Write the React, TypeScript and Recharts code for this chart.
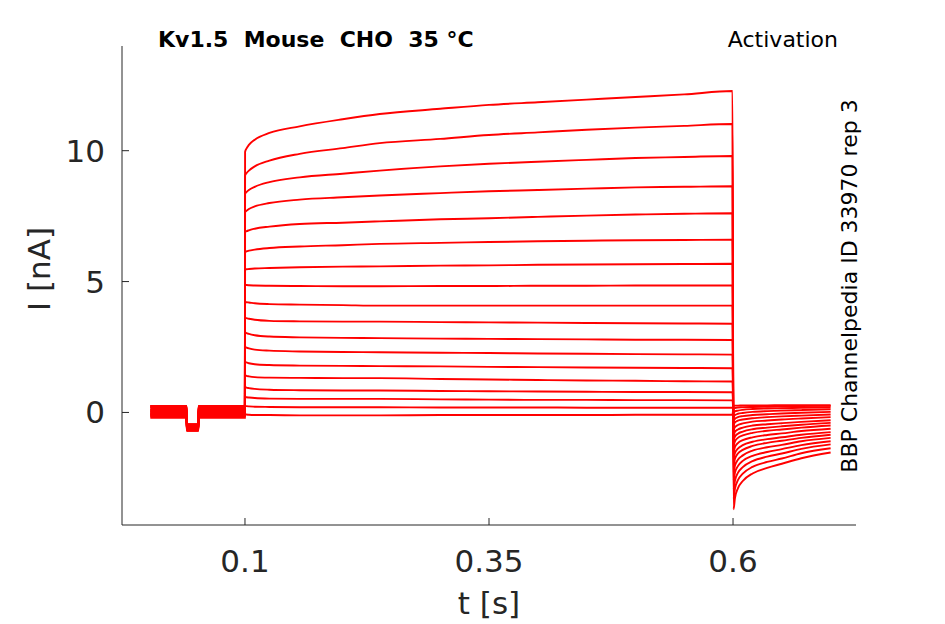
import React from 'react';
import { LineChart, Line, XAxis, YAxis } from 'recharts';

// sample times (s)
const preTimes = [0.003, 0.0402, 0.0404, 0.0522, 0.0524, 0.0999];
const pulseTimes = [0.1001, 0.1015, 0.104, 0.11, 0.125, 0.156, 0.2, 0.238, 0.3, 0.35, 0.4, 0.45, 0.5, 0.55, 0.5995];
const tailTimes = [0.6005, 0.602, 0.605, 0.61, 0.62, 0.635, 0.65, 0.67, 0.7];

// holding current before the step, and the small dip near 45 ms (nA)
const baselines = [0.05, -0.15, 0.2, -0.05, 0.1, -0.2, 0.25, 0.0, -0.1, 0.15, -0.15, 0.05, 0.2, -0.1, 0.1, -0.05, 0.25, 0.0];
const dips = [-0.55, -0.65, -0.5, -0.6, -0.55, -0.7, -0.45, -0.6, -0.65, -0.5, -0.7, -0.55, -0.5, -0.65, -0.55, -0.6, -0.45, -0.6];

// current during the activation step (nA), one row per sweep
const pulseValues = [
  [9.95, 10.08, 10.22, 10.42, 10.68, 10.93, 11.2, 11.4, 11.6, 11.75, 11.85, 11.95, 12.05, 12.15, 12.28],
  [9.05, 9.14, 9.24, 9.4, 9.62, 9.88, 10.1, 10.29, 10.45, 10.6, 10.7, 10.8, 10.88, 10.95, 11.02],
  [8.36, 8.42, 8.5, 8.62, 8.8, 8.98, 9.12, 9.24, 9.4, 9.5, 9.58, 9.65, 9.72, 9.76, 9.8],
  [7.65, 7.7, 7.77, 7.87, 8.0, 8.13, 8.22, 8.29, 8.38, 8.45, 8.5, 8.55, 8.6, 8.62, 8.64],
  [6.88, 6.92, 6.96, 7.02, 7.1, 7.2, 7.25, 7.3, 7.38, 7.42, 7.47, 7.52, 7.56, 7.59, 7.61],
  [6.12, 6.15, 6.18, 6.22, 6.28, 6.34, 6.39, 6.44, 6.48, 6.51, 6.54, 6.56, 6.58, 6.59, 6.6],
  [5.46, 5.47, 5.48, 5.5, 5.52, 5.55, 5.57, 5.58, 5.61, 5.62, 5.64, 5.65, 5.66, 5.67, 5.68],
  [4.88, 4.87, 4.86, 4.85, 4.84, 4.83, 4.82, 4.82, 4.83, 4.83, 4.84, 4.84, 4.85, 4.85, 4.85],
  [4.22, 4.21, 4.2, 4.17, 4.14, 4.12, 4.1, 4.08, 4.08, 4.08, 4.08, 4.08, 4.08, 4.08, 4.08],
  [3.62, 3.6, 3.58, 3.54, 3.5, 3.48, 3.47, 3.47, 3.45, 3.44, 3.43, 3.42, 3.41, 3.4, 3.39],
  [3.06, 3.03, 3.0, 2.95, 2.9, 2.87, 2.85, 2.84, 2.82, 2.81, 2.8, 2.79, 2.78, 2.78, 2.77],
  [2.5, 2.48, 2.45, 2.4, 2.36, 2.33, 2.31, 2.3, 2.28, 2.27, 2.25, 2.24, 2.23, 2.22, 2.21],
  [1.93, 1.91, 1.88, 1.84, 1.81, 1.79, 1.78, 1.77, 1.76, 1.74, 1.73, 1.72, 1.71, 1.7, 1.69],
  [1.42, 1.4, 1.38, 1.35, 1.33, 1.32, 1.31, 1.31, 1.28, 1.26, 1.24, 1.22, 1.21, 1.19, 1.18],
  [0.97, 0.95, 0.93, 0.9, 0.87, 0.85, 0.84, 0.84, 0.82, 0.81, 0.8, 0.79, 0.78, 0.78, 0.77],
  [0.6, 0.58, 0.57, 0.55, 0.53, 0.52, 0.52, 0.52, 0.5, 0.49, 0.48, 0.48, 0.47, 0.47, 0.46],
  [0.25, 0.24, 0.23, 0.22, 0.21, 0.2, 0.2, 0.2, 0.19, 0.19, 0.19, 0.18, 0.18, 0.18, 0.18],
  [-0.08, -0.08, -0.09, -0.1, -0.1, -0.11, -0.11, -0.11, -0.1, -0.1, -0.1, -0.1, -0.09, -0.09, -0.09],
];

// tail currents after the step (nA)
const tailValues = [
  [-3.7, -3.27, -2.9, -2.62, -2.33, -2.12, -1.96, -1.75, -1.53],
  [-3.3, -2.91, -2.59, -2.34, -2.08, -1.89, -1.76, -1.56, -1.37],
  [-2.95, -2.6, -2.31, -2.09, -1.86, -1.69, -1.57, -1.39, -1.22],
  [-2.6, -2.3, -2.05, -1.85, -1.66, -1.51, -1.4, -1.25, -1.1],
  [-2.3, -2.03, -1.81, -1.64, -1.46, -1.33, -1.24, -1.1, -0.97],
  [-2.0, -1.77, -1.57, -1.43, -1.28, -1.16, -1.08, -0.97, -0.85],
  [-1.75, -1.55, -1.38, -1.25, -1.12, -1.02, -0.95, -0.85, -0.75],
  [-1.5, -1.32, -1.17, -1.06, -0.95, -0.86, -0.8, -0.71, -0.62],
  [-1.25, -1.1, -0.97, -0.88, -0.78, -0.7, -0.65, -0.58, -0.5],
  [-1.05, -0.92, -0.81, -0.73, -0.64, -0.58, -0.53, -0.47, -0.4],
  [-0.85, -0.74, -0.65, -0.58, -0.5, -0.45, -0.41, -0.36, -0.3],
  [-0.65, -0.56, -0.48, -0.42, -0.35, -0.31, -0.27, -0.23, -0.18],
  [-0.45, -0.38, -0.31, -0.27, -0.22, -0.18, -0.15, -0.12, -0.08],
  [-0.3, -0.24, -0.18, -0.14, -0.1, -0.07, -0.04, -0.01, 0.02],
  [-0.15, -0.1, -0.05, -0.02, 0.02, 0.05, 0.07, 0.09, 0.12],
  [0.0, 0.04, 0.07, 0.1, 0.13, 0.15, 0.16, 0.18, 0.2],
  [0.15, 0.17, 0.19, 0.2, 0.21, 0.22, 0.23, 0.24, 0.25],
  [0.25, 0.26, 0.26, 0.27, 0.27, 0.27, 0.28, 0.28, 0.28],
];

const xTicks = [0.1, 0.35, 0.6];
const yTicks = [0, 5, 10];

const sweeps = pulseValues.map((pulse, i) => {
  const b = baselines[i];
  const d = dips[i];
  const pre = [b, b, d, d, b, b];
  return [
    ...preTimes.map((t, k) => ({ t, v: pre[k] })),
    ...pulseTimes.map((t, k) => ({ t, v: pulse[k] })),
    ...tailTimes.map((t, k) => ({ t, v: tailValues[i][k] })),
  ];
});

const ink = '#262626';
const font = 'DejaVu Sans';

const App: React.FC = () => {
  return (
    <div style={{ position: 'absolute', left: 0, top: 0, width: 945, height: 624, background: '#fff' }}>
      <LineChart width={945} height={624} margin={{ top: 46, right: 89, bottom: 0, left: 0 }}>
        <XAxis
          type="number"
          dataKey="t"
          domain={[-0.026, 0.726]}
          ticks={xTicks}
          tickFormatter={(v: number) => String(v)}
          allowDataOverflow
          height={99}
          tickSize={-7}
          tickMargin={32}
          stroke={ink}
          tick={{ fill: ink, fontSize: 31, fontFamily: font }}
        />
        <YAxis
          type="number"
          domain={[-4.3, 14]}
          ticks={yTicks}
          allowDataOverflow
          width={122}
          tickSize={-7}
          tickMargin={24}
          stroke={ink}
          tick={{ fill: ink, fontSize: 31, fontFamily: font }}
        />
        {sweeps.map((s, i) => (
          <Line
            key={i}
            data={s}
            dataKey="v"
            type="monotone"
            stroke="#ff0000"
            strokeWidth={1.9}
            dot={false}
            activeDot={false}
            isAnimationActive={false}
          />
        ))}
      </LineChart>
      <svg width={945} height={624} style={{ position: 'absolute', left: 0, top: 0, pointerEvents: 'none' }}>
        <text x={158} y={47} fontFamily={font} fontWeight="bold" fontSize={22} fill="#000" style={{ whiteSpace: 'pre' }}>
          {'Kv1.5  Mouse  CHO  35 °C'}
        </text>
        <text x={838} y={47} textAnchor="end" fontFamily={font} fontSize={22} fill="#000">
          Activation
        </text>
        <text
          x={857}
          y={286}
          textAnchor="middle"
          fontFamily={font}
          fontSize={22}
          fill="#000"
          transform="rotate(-90 857 286)"
        >
          BBP Channelpedia ID 33970 rep 3
        </text>
        <text
          x={50}
          y={269}
          textAnchor="middle"
          fontFamily={font}
          fontSize={31}
          fill={ink}
          style={{ whiteSpace: 'pre' }}
          transform="rotate(-90 50 269)"
        >
          {'I [nA]'}
        </text>
        <text x={489} y={614} textAnchor="middle" fontFamily={font} fontSize={31} fill={ink}>
          t [s]
        </text>
      </svg>
    </div>
  );
};

export default App;
